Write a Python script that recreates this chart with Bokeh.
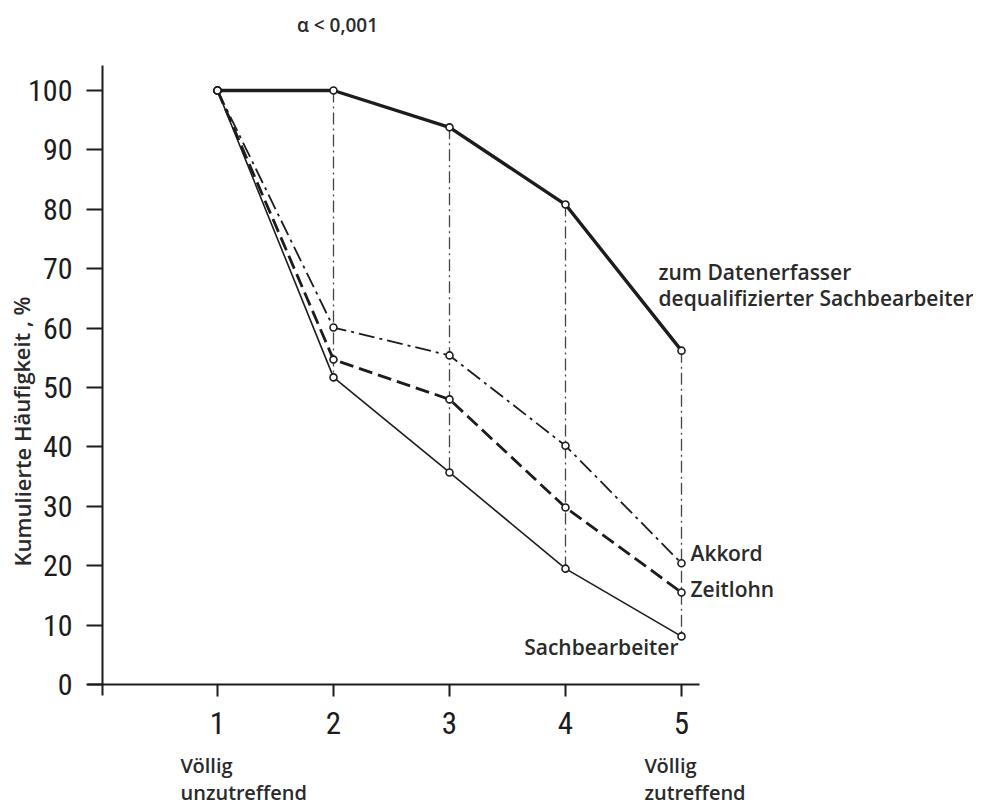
from bokeh.plotting import figure
from bokeh.models import Range1d, Label, FixedTicker
from bokeh.embed import file_html
from bokeh.resources import INLINE

# ---- data ----
answers = [1, 2, 3, 4, 5]
x_tick_values = [1, 2, 3, 4, 5]
y_tick_values = [0, 10, 20, 30, 40, 50, 60, 70, 80, 90, 100]

dequalifiziert = [100, 100, 93.8, 80.8, 56.2]
akkord = [100, 60.1, 55.4, 40.2, 20.4]
zeitlohn = [100, 54.7, 48.0, 29.8, 15.5]
sachbearbeiter = [100, 51.7, 35.7, 19.5, 8.1]

name_dequal_1 = "zum Datenerfasser"
name_dequal_2 = "dequalifizierter Sachbearbeiter"
name_akkord = "Akkord"
name_zeitlohn = "Zeitlohn"
name_sach = "Sachbearbeiter"

scale_low = ["Völlig", "unzutreffend"]
scale_high = ["Völlig", "zutreffend"]
title_text = "\u03b1 < 0,001"
y_label_text = "Kumulierte Häufigkeit , %"

# ---- geometry (pixels of the figure) ----
W, H = 973, 805
OX, OY = 1, 0
PX_X1, PX_PER_X = 218, 116.0
PX_Y0, PX_PER_Y = 684, 5.94

def vx(page_x):
    return 1 + (page_x - PX_X1) / PX_PER_X

def vy(page_y):
    return (PX_Y0 - page_y) / PX_PER_Y

INK = "#1c1c1c"
NARROW = "Roboto Condensed"
TXT = "Open Sans SemiBold"

p = figure(width=W, height=H, output_backend="svg", toolbar_location=None, title=None,
           x_range=Range1d(vx(OX), vx(OX + W)), y_range=Range1d(vy(OY + H), vy(OY)),
           min_border=0)
p.outline_line_color = None
p.grid.visible = False
p.background_fill_color = "white"
p.border_fill_color = "white"

for ax in (p.xaxis[0], p.yaxis[0]):
    ax.axis_line_color = INK
    ax.axis_line_width = 2
    ax.major_tick_line_color = INK
    ax.major_tick_line_width = 2
    ax.minor_tick_line_color = None
    ax.major_tick_in = 0
    ax.major_label_text_font = NARROW
    ax.major_label_text_color = INK

p.xaxis.fixed_location = 0
p.yaxis.fixed_location = vx(103)
p.xaxis.bounds = (vx(88), vx(700))
p.yaxis.bounds = (vy(695), vy(65))
p.xaxis.ticker = FixedTicker(ticks=x_tick_values)
p.yaxis.ticker = FixedTicker(ticks=y_tick_values)
p.xaxis.major_tick_out = 12
p.yaxis.major_tick_out = 16
p.xaxis.major_label_standoff = 15
p.yaxis.major_label_standoff = 14
p.xaxis.major_label_text_font_size = "31px"
p.yaxis.major_label_text_font_size = "30px"

p.segment(x0=answers[1:], y0=dequalifiziert[1:], x1=answers[1:], y1=sachbearbeiter[1:],
          line_color="#444444", line_width=1.3, line_dash="12 4 2 4")

p.line(answers, sachbearbeiter, line_color=INK, line_width=1.6)
p.line(answers, zeitlohn, line_color=INK, line_width=2.8, line_dash="14 6")
p.line(answers, akkord, line_color=INK, line_width=1.8, line_dash="16 5 3 5")
p.line(answers, dequalifiziert, line_color=INK, line_width=3.4)

for ys in (sachbearbeiter, zeitlohn, akkord, dequalifiziert):
    p.scatter(answers, ys, marker="circle", size=7, fill_color="white",
              line_color=INK, line_width=1.6)

def lab(x, y, text, xo=0, yo=0, align="left", baseline="middle", size="21px",
        font=TXT, angle=0, style="normal", color="#2a2a2a"):
    p.add_layout(Label(x=x, y=y, text=text, x_offset=xo, y_offset=yo,
                       text_align=align, text_baseline=baseline,
                       text_font_size=size, text_font=font, text_color=color,
                       angle=angle, text_font_style=style))

lab(answers[-1], dequalifiziert[-1], name_dequal_1, xo=-23, yo=79)
lab(answers[-1], dequalifiziert[-1], name_dequal_2, xo=-23, yo=53)
lab(answers[-1], akkord[-1], name_akkord, xo=9, yo=10)
lab(answers[-1], zeitlohn[-1], name_zeitlohn, xo=9, yo=3)
lab(answers[-1], sachbearbeiter[-1], name_sach, xo=-3, yo=-11, align="right")

lab(answers[0], 0, scale_low[0], xo=-37, yo=-81, size="20px")
lab(answers[0], 0, scale_low[1], xo=-37, yo=-108, size="20px")
lab(answers[-1], 0, scale_high[0], xo=-37, yo=-81, size="20px")
lab(answers[-1], 0, scale_high[1], xo=-37, yo=-108, size="20px")

lab(vx(338), vy(24), title_text, align="center", size="19px")
lab(vx(22), vy(431), y_label_text, align="center", size="22px", angle=1.5708)

open("out.html", "w").write(file_html(p, INLINE))
